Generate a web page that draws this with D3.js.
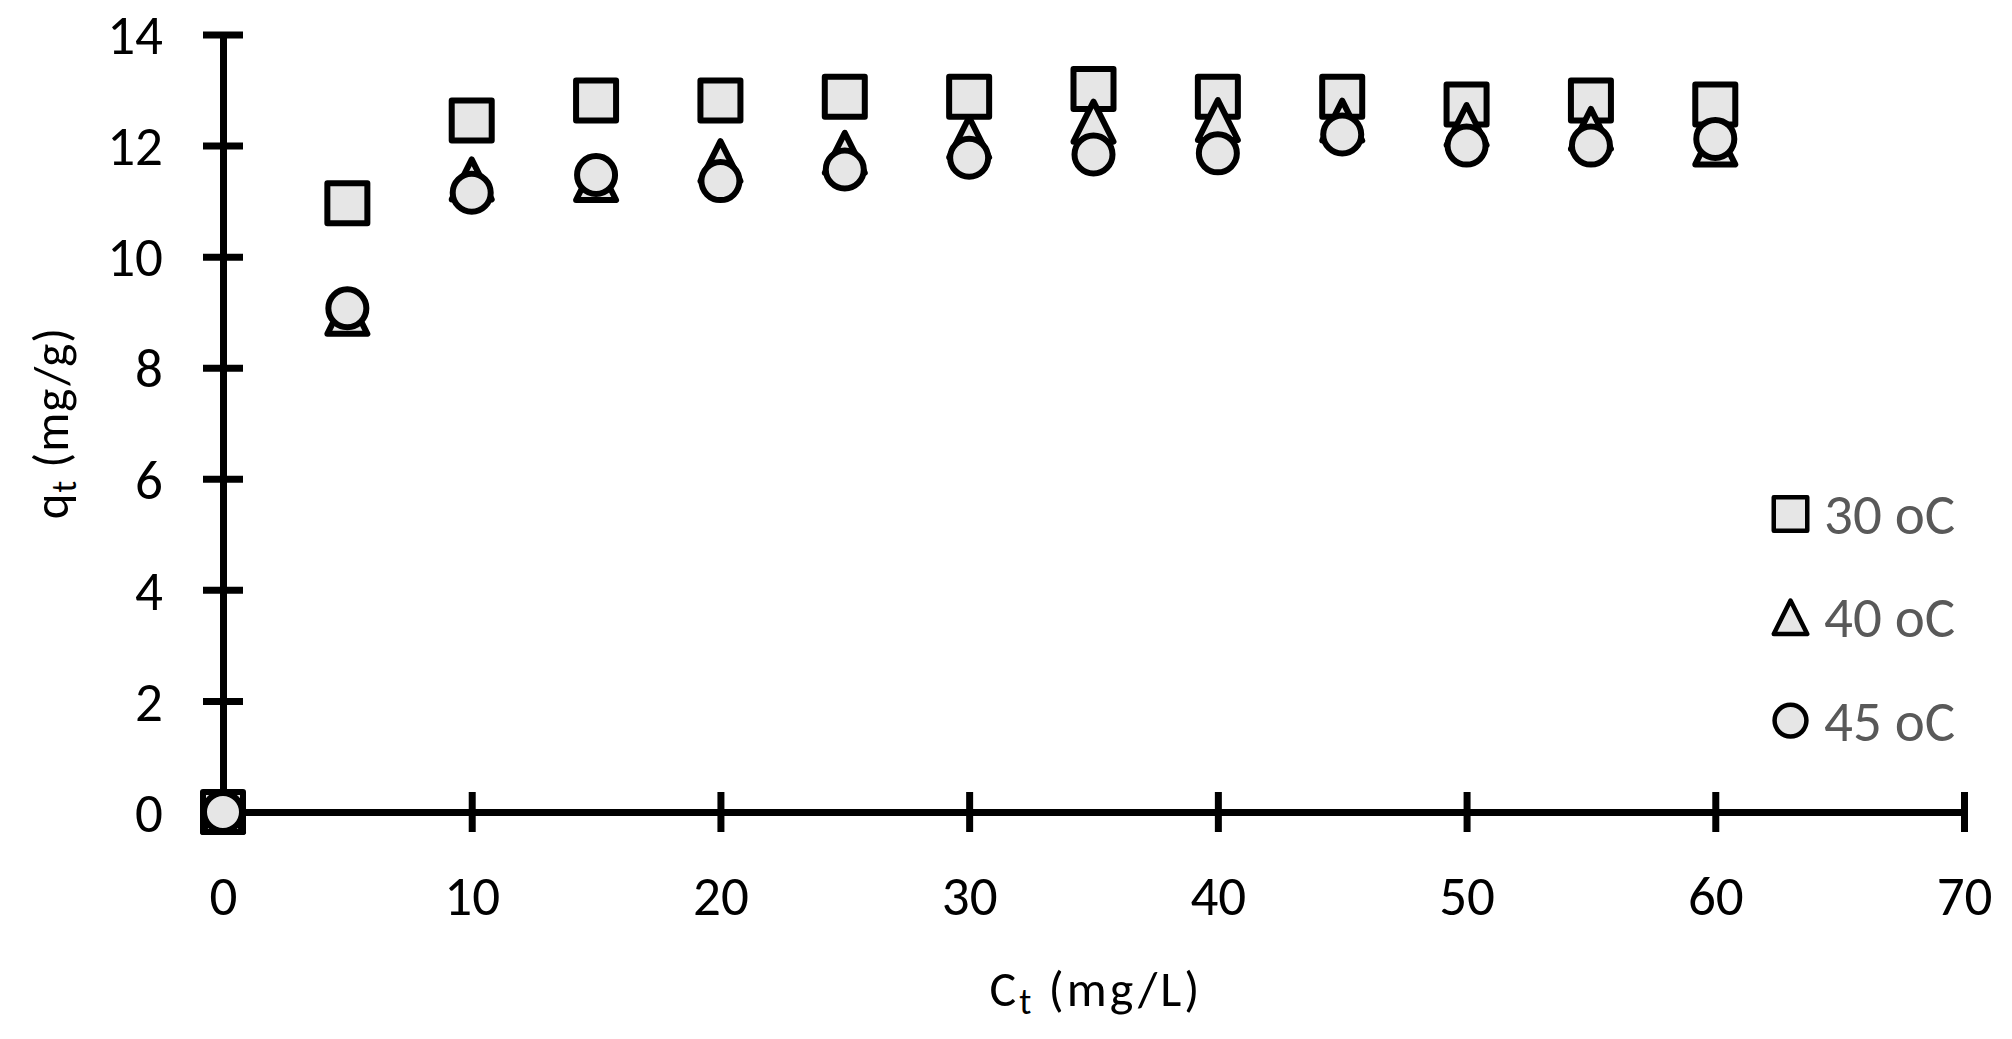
<!DOCTYPE html>
<html>
<head>
<meta charset="utf-8">
<script src="https://cdn.jsdelivr.net/npm/d3@7"></script>
<style>
  html, body { margin: 0; padding: 0; background: #fff; }
  svg { display: block; font-family: Carlito, Calibri, Lato, sans-serif; }
</style>
</head>
<body>
<svg id="chart" width="2012" height="1039"></svg>
<script>
// contact time (x) and uptake q_t for each temperature
const times = [0, 5, 10, 15, 20, 25, 30, 35, 40, 45, 50, 55, 60];
const q30 = [0, 10.96, 12.45, 12.81, 12.81, 12.88, 12.88, 13.02, 12.88, 12.88, 12.74, 12.81, 12.74];
const q40 = [0, 8.97, 11.39, 11.38, 11.72, 11.87, 12.15, 12.43, 12.46, 12.45, 12.37, 12.30, 12.02];
const q45 = [0, 9.07, 11.15, 11.47, 11.36, 11.57, 11.78, 11.84, 11.86, 12.20, 12.00, 12.00, 12.12];
const seriesNames = ['30 oC', '40 oC', '45 oC'];
const seriesShapes = ['square', 'triangle', 'circle'];
const xTicks = [0, 10, 20, 30, 40, 50, 60, 70];
const yTicks = [0, 2, 4, 6, 8, 10, 12, 14];

const svg = d3.select('#chart');
const fill = '#e6e6e6';

const x = d3.scaleLinear().domain([0, 70]).range([223, 1964]);
const y = d3.scaleLinear().domain([0, 14]).range([812, 34.5]);

// marker paths, s = box size
const shapePath = (shape, s) => {
  const h = s / 2;
  if (shape === 'square') return `M${-h},${-h}H${h}V${h}H${-h}Z`;
  if (shape === 'triangle') return `M0,${-h}L${h},${h}L${-h},${h}Z`;
  const r = h * 0.95;
  return `M${-r},0A${r},${r} 0 1,0 ${r},0A${r},${r} 0 1,0 ${-r},0Z`;
};

// axes (ticks cross the line)
const xAxis = svg.append('g')
  .attr('transform', `translate(0,${y(0)})`)
  .call(d3.axisBottom(x).tickValues(xTicks).tickSize(20).tickSizeOuter(0));
xAxis.selectAll('.tick line').attr('y1', -20).attr('y2', 20);
xAxis.selectAll('.tick text').attr('y', 84).attr('dy', '0.35em');

const yAxis = svg.append('g')
  .attr('transform', `translate(${x(0)},0)`)
  .call(d3.axisLeft(y).tickValues(yTicks).tickSize(20).tickSizeOuter(0));
yAxis.selectAll('.tick line').attr('x1', -20).attr('x2', 20);
yAxis.selectAll('.tick text').attr('x', -60).attr('dy', '0.35em');

svg.selectAll('g').attr('font-family', null).attr('font-size', null);
svg.selectAll('.domain, .tick line')
  .attr('stroke', '#000').attr('stroke-width', 7);
svg.selectAll('.tick text')
  .attr('fill', '#000').attr('font-size', 55);

// points, drawn in series order so circles end on top
const series = [q30, q40, q45];
series.forEach((vals, si) => {
  svg.append('g').selectAll('path')
    .data(times.map((t, i) => [t, vals[i]]))
    .join('path')
    .attr('transform', d => `translate(${x(d[0])},${y(d[1])})`)
    .attr('d', shapePath(seriesShapes[si], 40))
    .attr('fill', fill)
    .attr('stroke', '#000')
    .attr('stroke-width', 6)
    .attr('stroke-linejoin', 'round');
});

// legend
const legend = svg.append('g');
seriesNames.forEach((name, i) => {
  const ly = 514 + i * 103.3;
  legend.append('path')
    .attr('transform', `translate(1790.5,${ly})`)
    .attr('d', shapePath(seriesShapes[i], 33.5))
    .attr('fill', fill)
    .attr('stroke', '#000')
    .attr('stroke-width', 4.5)
    .attr('stroke-linejoin', 'round');
  legend.append('text')
    .attr('x', 1824).attr('y', ly)
    .attr('dy', '0.35em')
    .attr('font-size', 57)
    .attr('fill', '#595959')
    .text(name);
});

// axis titles
const xt = svg.append('text')
  .attr('x', 1096).attr('y', 1006)
  .attr('text-anchor', 'middle')
  .attr('font-size', 50)
  .attr('letter-spacing', 3)
  .attr('fill', '#000');
xt.append('tspan').text('C');
xt.append('tspan').attr('font-size', 36).attr('dy', 8).text('t');
xt.append('tspan').attr('dy', -8).text(' (mg/L)');

const yt = svg.append('text')
  .attr('transform', 'translate(68,423) rotate(-90)')
  .attr('text-anchor', 'middle')
  .attr('font-size', 49)
  .attr('letter-spacing', 1)
  .attr('fill', '#000');
yt.append('tspan').text('q');
yt.append('tspan').attr('font-size', 35).attr('dy', 8).text('t');
yt.append('tspan').attr('dy', -8).text(' (mg/g)');
</script>
</body>
</html>
